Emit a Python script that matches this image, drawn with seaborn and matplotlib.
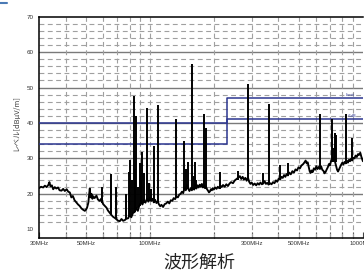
import numpy as np
import pandas as pd
import matplotlib
matplotlib.use('Agg')
import matplotlib.pyplot as plt
from matplotlib.lines import Line2D
from matplotlib.ticker import FixedLocator, NullFormatter, FixedFormatter
import seaborn as sns

# noise floor of the scan (MHz, dBuV/m)
floor_mhz = [30.0, 30.7, 31.4, 32.0, 32.6, 33.2, 33.6, 34.0, 34.5, 35.0, 35.6, 36.2, 36.9, 37.5,
             38.3, 39.0, 39.7, 40.5, 41.2, 41.9, 42.6, 43.3, 44.1, 45.1, 45.8, 46.6, 47.5, 48.4,
             49.3, 50.0, 50.5, 51.2, 51.6, 52.0, 52.5, 53.0, 53.5, 54.0, 54.8, 55.9, 56.8, 58.0,
             58.8, 59.4, 60.1, 61.2, 62.3, 63.3, 64.6, 65.8, 67.0, 68.2, 69.5, 70.7, 72.0, 73.3,
             74.6, 76.0, 77.3, 78.8, 80.0, 81.5, 83.0, 84.6, 86.0, 87.5, 89.0, 90.5, 92.0, 93.5,
             95.0, 96.5, 98.0, 99.5, 101, 102.5, 104, 105.5, 107, 108.5, 110, 111.5, 113, 115,
             117, 119, 121, 123, 125, 127, 129, 131, 133, 135, 137, 139, 141, 143, 145, 147, 149,
             151, 153, 155, 157, 159, 161, 163, 165, 167, 169, 171, 173, 175, 177, 179, 181, 183,
             185, 187, 189, 191, 193, 195, 197, 199, 202, 205, 208, 211, 214, 217, 220, 224, 228,
             232, 236, 240, 245, 250, 255, 260, 264, 268, 272, 276, 280, 284, 288, 292, 296, 300,
             305, 310, 315, 320, 325, 330, 335, 340, 345, 350, 355, 360, 366, 372, 378, 384, 390,
             396, 402, 408, 414, 420, 426, 432, 438, 444, 450, 458, 466, 474, 482, 490, 498, 506,
             514, 522, 530, 538, 544, 550, 556, 562, 568, 574, 580, 588, 596, 604, 612, 620, 628,
             636, 644, 652, 660, 668, 676, 684, 692, 700, 708, 716, 724, 732, 740, 748, 756, 764,
             772, 780, 790, 800, 810, 820, 830, 840, 850, 860, 870, 880, 890, 900, 912, 924, 936,
             948, 960, 972, 984, 1000]
floor_db = [21.6, 22.0, 21.8, 22.3, 21.9, 22.5, 23.3, 22.1, 22.4, 21.3, 21.9, 21.5, 21.8, 21.0,
            20.9, 21.4, 20.8, 21.3, 20.6, 20.4, 19.0, 19.4, 18.2, 17.5, 17.0, 16.6, 15.9, 15.5,
            15.2, 15.6, 16.1, 17.5, 19.5, 21.5, 19.0, 20.0, 18.6, 19.3, 18.8, 19.5, 18.4, 18.0,
            18.6, 17.8, 17.1, 16.6, 16.1, 15.3, 14.6, 14.0, 13.5, 13.2, 12.8, 12.4, 12.3, 12.9,
            12.4, 12.6, 13.0, 13.1, 14.0, 13.4, 14.6, 14.9, 16.0, 15.2, 16.8, 17.5, 17.0, 18.2,
            17.5, 18.6, 17.8, 18.9, 18.0, 18.6, 17.6, 18.3, 17.4, 17.9, 17.0, 16.5, 16.9, 16.3,
            17.1, 17.3, 17.8, 17.3, 18.2, 18.0, 18.8, 18.5, 19.3, 19.0, 19.8, 20.0, 20.6, 20.2,
            21.8, 21.0, 22.5, 21.4, 20.8, 21.6, 21.0, 21.7, 21.2, 22.2, 21.5, 22.4, 21.8, 22.6,
            22.0, 22.8, 21.8, 22.4, 21.6, 22.0, 21.3, 20.9, 20.4, 20.7, 21.3, 21.0, 21.6, 21.2,
            21.8, 21.4, 22.0, 21.6, 22.3, 21.9, 22.5, 22.0, 22.7, 22.2, 22.9, 23.3, 23.0, 23.8,
            24.2, 24.6, 25.0, 24.2, 24.8, 24.0, 24.5, 23.7, 24.6, 23.4, 22.8, 23.2, 22.5, 22.9,
            22.4, 23.0, 22.6, 23.2, 22.7, 22.9, 23.6, 22.8, 23.1, 22.6, 23.0, 22.7, 23.3, 23.0,
            23.8, 23.4, 24.3, 24.0, 24.8, 24.5, 25.3, 24.8, 25.6, 25.2, 26.0, 25.5, 26.4, 26.0,
            26.9, 26.6, 27.5, 27.2, 28.0, 28.3, 28.8, 29.4, 28.6, 28.9, 27.6, 26.4, 25.9, 26.6,
            26.1, 27.2, 26.8, 27.8, 27.0, 27.6, 27.0, 27.8, 26.8, 26.5, 25.8, 26.2, 26.9, 27.5,
            28.4, 28.0, 29.2, 29.8, 29.4, 30.1, 29.0, 28.0, 26.8, 26.3, 26.9, 27.5, 28.2, 28.8,
            28.3, 29.0, 28.6, 29.3, 28.8, 29.6, 29.2, 29.9, 29.4, 30.2, 30.0, 30.8, 30.4, 31.2,
            31.0, 31.6, 30.4, 29.2]

# narrow emission spikes: frequency, foot level, peak level
spike_mhz = [59.5, 65.6, 69.2, 77.1, 79.1, 80.8, 82.3, 83.8, 85.0, 86.2, 87.6, 89.1, 90.5, 92.0,
             94.0, 96.8, 98.5, 101, 104, 108.6, 132.4, 144.9, 147.5, 150.2, 156.9, 160, 162.6,
             165, 179.8, 183.8, 212, 260, 288.4, 340, 360.5, 406, 444, 630, 718, 727, 736, 742,
             749, 835, 888]
spike_base = [17.5, 14.2, 12.8, 12.8, 13.5, 13.5, 14.0, 14.5, 15.0, 15.5, 16.0, 16.5, 17.0, 17.0,
              17.5, 18.0, 18.0, 18.0, 17.5, 17.5, 18.8, 21.0, 21.0, 21.5, 21.0, 21.0, 21.5,
              21.5, 22.0, 21.5, 21.5, 24.0, 24.5, 22.8, 22.5, 24.0, 25.0, 27.0, 29.0, 29.0, 29.5,
              29.5, 29.0, 28.5, 29.3]
spike_peak = [22.0, 25.5, 22.0, 20.0, 26.3, 29.6, 24.0, 47.6, 27.0, 41.9, 22.0, 28.7, 24.0, 31.7,
              26.0, 44.3, 23.0, 21.5, 33.4, 45.0, 41.0, 34.8, 27.0, 29.0, 56.6, 25.0, 29.0,
              24.0, 42.4, 38.6, 26.3, 26.5, 51.0, 26.0, 45.3, 28.2, 28.7, 42.6, 41.0, 33.0, 37.2,
              34.0, 36.7, 42.6, 35.8]

# limit line and limit - 6 dB
limit_mhz = [30, 230, 230, 1000]
limit_db = [40, 40, 47, 47]
margin_mhz = [30, 230, 230, 1000]
margin_db = [34, 34, 41, 41]

x_grid = [40, 50, 60, 70, 80, 90, 100, 200, 300, 400, 500, 600, 700, 800, 900]
x_major = [30, 50, 100, 300, 500, 1000]
x_labels = ['30MHz', '50MHz', '100MHz', '300MHz', '500MHz', '1000MHz']
y_major = [10, 20, 30, 40, 50, 60, 70]

sns.set_style('white')
plt.rcParams['font.family'] = ['Liberation Sans', 'Noto Sans CJK JP', 'DejaVu Sans']
plt.rcParams['lines.scale_dashes'] = False

fig = plt.figure(figsize=(3.64, 2.73), dpi=100)
ax = fig.add_axes([0.107, 0.129, 0.890, 0.810])

df = pd.DataFrame({'mhz': floor_mhz, 'db': floor_db})
sns.lineplot(data=df, x='mhz', y='db', ax=ax, color='black', lw=1.35, sort=False, zorder=4)
ax.vlines(spike_mhz, spike_base, spike_peak, color='black', lw=1.4, zorder=4)

blue = '#2b3590'
ax.plot(limit_mhz, limit_db, color=blue, lw=1.1, zorder=3)
ax.plot(margin_mhz, margin_db, color=blue, lw=1.1, zorder=3)
ax.text(830, 47.4, 'Limit', color=blue, fontsize=3, va='bottom', ha='left')
ax.text(850, 41.4, '-6dB', color=blue, fontsize=3, va='bottom', ha='left')

ax.set_xscale('log')
ax.set_xlim(30, 1000)
ax.set_ylim(7.6, 70)

# grid
dash = (0, (3.5, 2.5))
for v in np.arange(12, 70, 2):
    if v % 10 == 0:
        ax.axhline(v, color='#7a7a7a', lw=1.0, zorder=1)
    else:
        ax.axhline(v, color='#a0a0a0', lw=0.8, ls=dash, zorder=1)
for f in x_grid:
    ax.axvline(f, color='#a0a0a0', lw=0.8, ls=dash, zorder=1)

ax.xaxis.set_major_locator(FixedLocator(x_major))
ax.xaxis.set_major_formatter(FixedFormatter(x_labels))
ax.xaxis.set_minor_locator(FixedLocator(x_grid))
ax.xaxis.set_minor_formatter(NullFormatter())
ax.tick_params(axis='x', which='both', direction='in', length=4, width=0.8,
               color='#444444', labelsize=4.3, labelcolor='#333333', pad=2.5, bottom=True)
ax.set_yticks(y_major)
ax.tick_params(axis='y', length=0, labelsize=4.5, labelcolor='#333333', pad=4)

for side in ['left', 'top', 'bottom']:
    ax.spines[side].set_color('black')
    ax.spines[side].set_linewidth(1.1)
ax.spines['right'].set_visible(False)

ax.set_xlabel('')
ax.set_ylabel('レベル[dBμV/m]', fontsize=5.4, color='#444444',
              family=['Noto Sans CJK JP', 'DejaVu Sans'])
ax.yaxis.set_label_coords(-0.056, 0.52)

fig.text(0.549, 0.037, '波形解析', fontsize=13, color='#222222', ha='center', va='center',
         family=['Noto Sans CJK JP', 'DejaVu Sans'])

# small blue mark at the top left corner
fig.add_artist(Line2D([0.0, 0.02], [0.988, 0.988], color='#4a7ab5', lw=1.5))

fig.savefig('out.png', dpi=100)
